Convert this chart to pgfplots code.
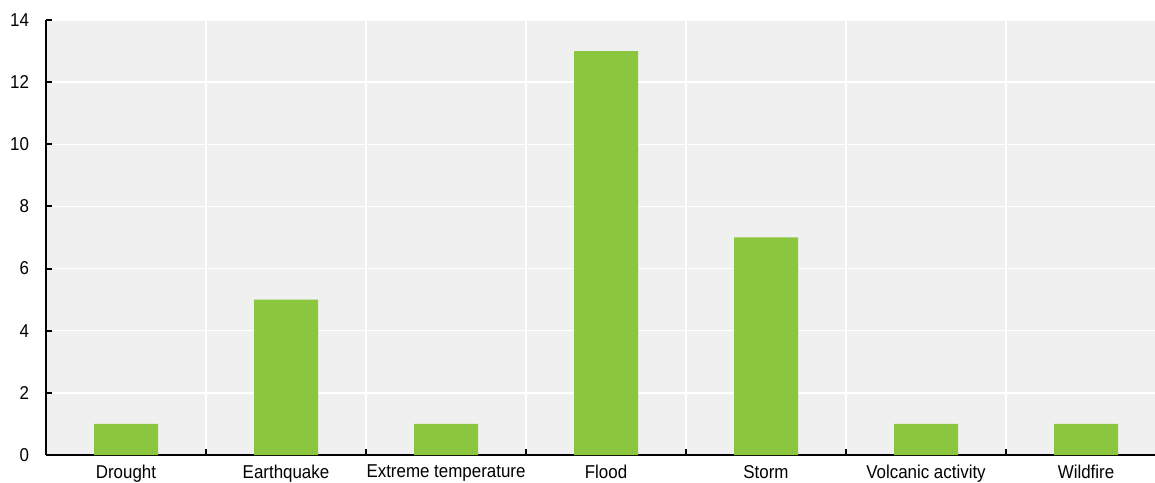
\documentclass[border=0pt]{standalone}
\usepackage{pgfplots}
\pgfplotsset{compat=1.18}
\usepackage{fontspec}
\setmainfont{Liberation Sans}[FakeStretch=0.91]
\definecolor{barg}{HTML}{8CC63F}
\definecolor{bg}{HTML}{F0F0F0}
\begin{document}
\begin{tikzpicture}
\begin{axis}[
    name=ax,
    set layers,
    scale only axis,
    width=560pt, height=217.5pt,
    xmin=-0.5, xmax=6.5,
    ymin=0, ymax=14,
    ytick={0,2,...,14},
    xtick={-0.5,0.5,...,6.5},
    x tick label as interval,
    xticklabels={Drought,Earthquake,Extreme temperature,Flood,Storm,Volcanic activity,Wildfire},
    axis x line*=bottom,
    axis y line*=left,
    axis line style={-, line width=1pt, black},
    axis background/.style={fill=bg},
    ymajorgrids, xmajorgrids,
    major grid style={white, line width=0.7pt},
    tick style={black, line width=1pt},
    ticklabel style={font=\fontsize{9.3}{11}\selectfont},
    yticklabel style={xshift=-5pt},
    xticklabel style={yshift=-1.5pt},
    /pgf/number format/assume math mode=true,
    ybar, bar width=0.4,
    tick align=inside,
    major tick length=3pt,
  ]
  \addplot[fill=barg, draw=none] coordinates {
    (0,1) (1,5) (2,1) (3,13) (4,7) (5,1) (6,1)
  };
\end{axis}
\pgfresetboundingbox
\path ([xshift=-23pt,yshift=-13.5pt]ax.south west) rectangle ++(577.5pt,241pt);
\end{tikzpicture}
\end{document}
